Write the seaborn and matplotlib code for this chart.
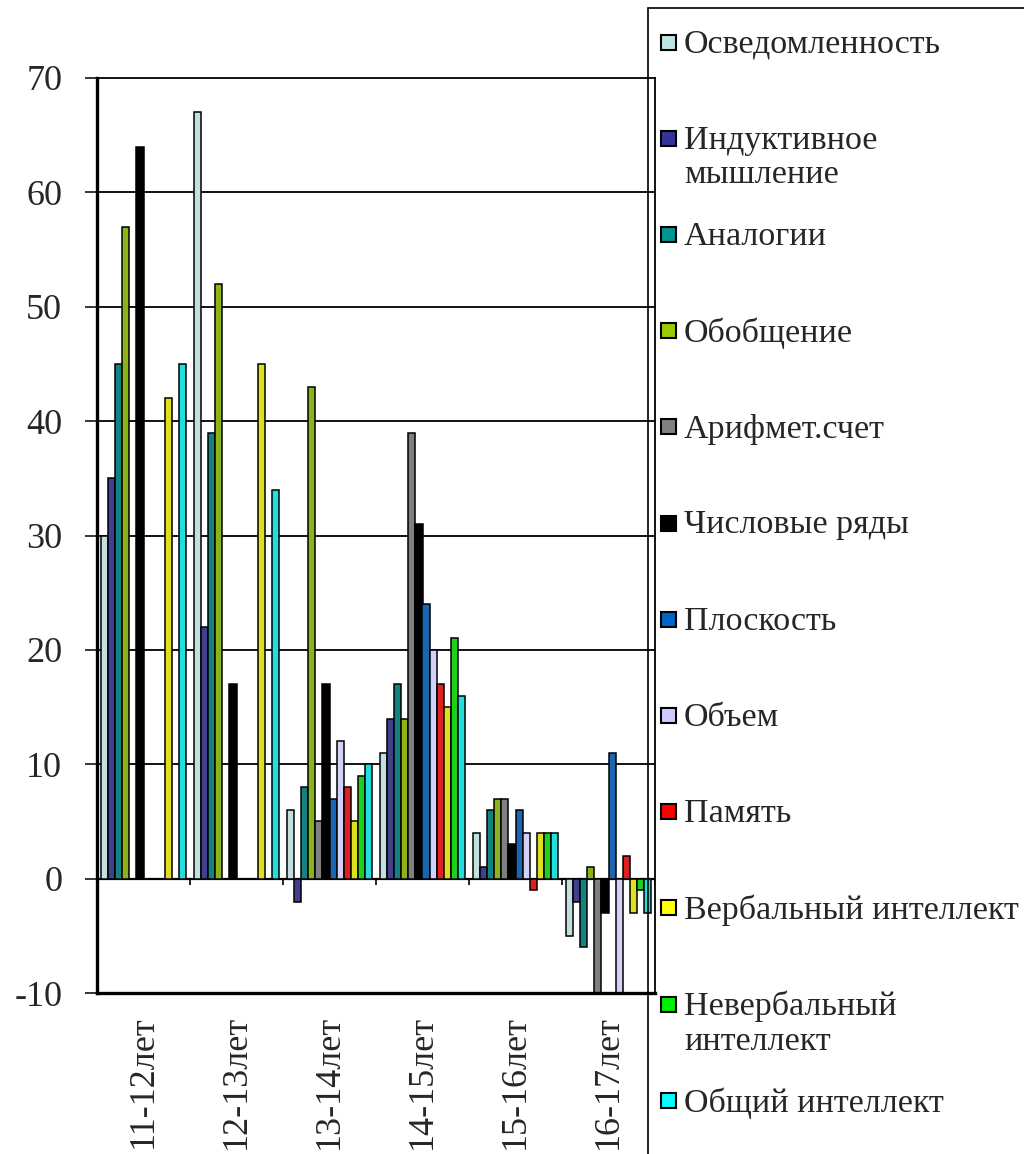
import numpy as np
import pandas as pd
import matplotlib
matplotlib.use('Agg')
import matplotlib.pyplot as plt
from matplotlib.patches import Rectangle
import seaborn as sns

# ============================================================
# Data
# ============================================================

AGES = ['11-12лет', '12-13лет', '13-14лет', '14-15лет', '15-16лет', '16-17лет']

SERIES = [
    'Осведомленность',
    'Индуктивное\nмышление',
    'Аналогии',
    'Обобщение',
    'Арифмет.счет',
    'Числовые ряды',
    'Плоскость',
    'Объем',
    'Память',
    'Вербальный интеллект',
    'Невербальный\nинтеллект',
    'Общий интеллект',
]

COLORS = ['#BFE3E3', '#333399', '#009494', '#99CC00', '#808080', '#000000',
          '#0066CC', '#CCCCFF', '#FF0000', '#FFFF00', '#00EE00', '#00FFFF']

osvedomlennost = [30, 67, 6, 11, 4, -5]
induktivnoe = [35, 22, -2, 14, 1, -2]
analogii = [45, 39, 8, 17, 6, -6]
obobshchenie = [57, 52, 43, 14, 7, 1]
arifmet = [0, 0, 5, 39, 7, -12]
chislovye = [64, 17, 17, 31, 3, -3]
ploskost = [0, 0, 7, 24, 6, 11]
obem = [0, 0, 12, 20, 4, -12]
pamyat = [0, 0, 8, 17, -1, 2]
verbalny = [42, 45, 5, 15, 4, -3]
neverbalny = [0, 0, 9, 21, 4, -1]
obshchiy = [45, 34, 10, 16, 4, -3]

VALUES = [osvedomlennost, induktivnoe, analogii, obobshchenie, arifmet, chislovye,
          ploskost, obem, pamyat, verbalny, neverbalny, obshchiy]

# ============================================================
# Plot
# ============================================================

W, H = 1024, 1154

rows = []
for name, vals in zip(SERIES, VALUES):
    for age, v in zip(AGES, vals):
        rows.append({'age': age, 'series': name, 'value': v})
df = pd.DataFrame(rows)

sns.set_style('white')
plt.rcParams['font.family'] = ['Liberation Serif', 'DejaVu Serif']
plt.rcParams['axes.unicode_minus'] = False

fig = plt.figure(figsize=(W / 100, H / 100), dpi=100)
ax = fig.add_axes([97 / W, 1 - 993 / H, (655 - 97) / W, (993 - 78) / H])

sns.barplot(data=df, x='age', y='value', hue='series', order=AGES, hue_order=SERIES,
            palette=COLORS, edgecolor='black', linewidth=1.1, width=0.92, gap=0,
            legend=False, ax=ax)

ax.set_ylim(-10, 70)
ax.set_xlim(-0.5, len(AGES) - 0.5)
ax.set_yticks(np.arange(-10, 71, 10))
ax.set_xlabel('')
ax.set_ylabel('')

for y in np.arange(10, 70, 10):
    ax.axhline(y, color='black', lw=1.3, zorder=0)
ax.axhline(0, color='black', lw=1.6, zorder=0.5)
ax.vlines(np.arange(0.5, len(AGES)), -0.6, 0, color='black', lw=1.2)

for side in ['top', 'right']:
    ax.spines[side].set_linewidth(1.3)
    ax.spines[side].set_color('black')
for side in ['left', 'bottom']:
    ax.spines[side].set_linewidth(2.4)
    ax.spines[side].set_color('black')

ax.tick_params(axis='y', direction='out', length=9, width=1.3, labelsize=26, pad=16, left=True)
ax.tick_params(axis='x', length=0, labelsize=26, pad=16)
plt.setp(ax.get_xticklabels(), rotation=90, va='top')

# legend box on the right, entries spaced evenly like the original
fig.patches.append(Rectangle((648 / W, -0.05), 0.5, 1.05 - 8 / H,
                             transform=fig.transFigure, fill=False,
                             edgecolor='black', lw=1.2))
first_y, step, box = 42, 96.2, 15
for i, (name, color) in enumerate(zip(SERIES, COLORS)):
    yc = first_y + i * step
    fig.patches.append(Rectangle((661 / W, 1 - (yc + box / 2) / H), box / W, box / H,
                                 transform=fig.transFigure, facecolor=color,
                                 edgecolor='black', lw=1.5))
    fig.text(684 / W, 1 - (yc - 13) / H, name, fontsize=24.5, va='top',
             ha='left', linespacing=1.15)

plt.savefig('out.png', dpi=100)
plt.close()
